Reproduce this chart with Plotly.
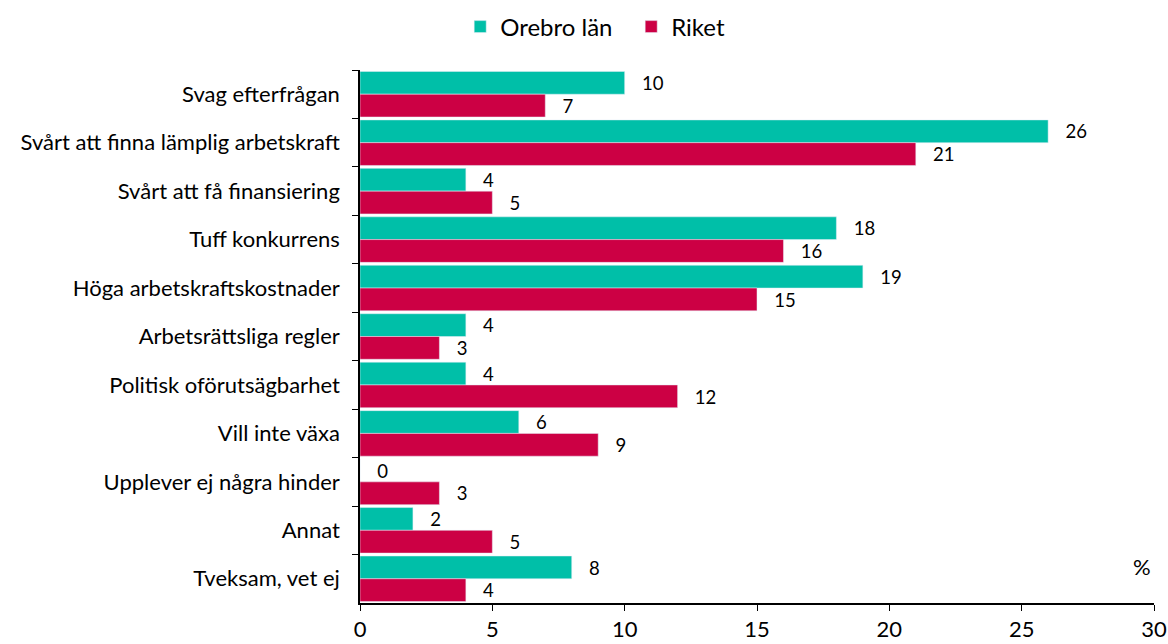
import plotly.graph_objects as go

categories = [
    "Svag efterfrågan",
    "Svårt att finna lämplig arbetskraft",
    "Svårt att få finansiering",
    "Tuff konkurrens",
    "Höga arbetskraftskostnader",
    "Arbetsrättsliga regler",
    "Politisk oförutsägbarhet",
    "Vill inte växa",
    "Upplever ej några hinder",
    "Annat",
    "Tveksam, vet ej",
]
orebro = [10, 26, 4, 18, 19, 4, 4, 6, 0, 2, 8]
riket = [7, 21, 5, 16, 15, 3, 12, 9, 3, 5, 4]

font = "Lato"

fig = go.Figure()
fig.add_trace(go.Bar(
    y=categories, x=orebro, name="Orebro län", orientation="h",
    marker=dict(color="#00BFA8"),
    text=orebro, texttemplate="   %{x}", textposition="outside",
    textfont=dict(size=22, color="black"), cliponaxis=False,
))
fig.add_trace(go.Bar(
    y=categories, x=riket, name="Riket", orientation="h",
    marker=dict(color="#CC0044"),
    text=riket, texttemplate="   %{x}", textposition="outside",
    textfont=dict(size=22, color="black"), cliponaxis=False,
))

fig.update_layout(
    width=1168, height=644,
    barmode="group", bargap=0.06, bargroupgap=0.0,
    plot_bgcolor="white", paper_bgcolor="white",
    font=dict(family=font, size=22, color="black"),
    margin=dict(l=360, r=14, t=70, b=41, autoexpand=False),
    legend=dict(orientation="h", xref="container", x=0.394, xanchor="left",
                yref="container", y=0.993, yanchor="top",
                font=dict(size=24), itemwidth=30, entrywidth=126,
                traceorder="normal"),
)
fig.update_xaxes(range=[0, 30], dtick=5, showline=True, linecolor="black",
                 linewidth=1.5, ticks="outside", ticklen=6, tickcolor="black",
                 showgrid=False, zeroline=False, automargin=False)
fig.update_yaxes(autorange="reversed", showline=True, linecolor="black",
                 linewidth=1.5, ticks="outside", ticklen=6, tickcolor="black",
                 tickson="boundaries", showgrid=False, automargin=False,
                 ticklabelstandoff=14)
fig.add_annotation(text="%", xref="paper", yref="paper", x=0.985, y=0.069,
                   xanchor="center", yanchor="middle",
                   showarrow=False, font=dict(size=22))

# drop the default page margin so the figure fills the window exactly
fig.write_html("out.html", config={"displayModeBar": False},
               post_script="document.body.style.margin='0';document.body.style.overflow='hidden';")
